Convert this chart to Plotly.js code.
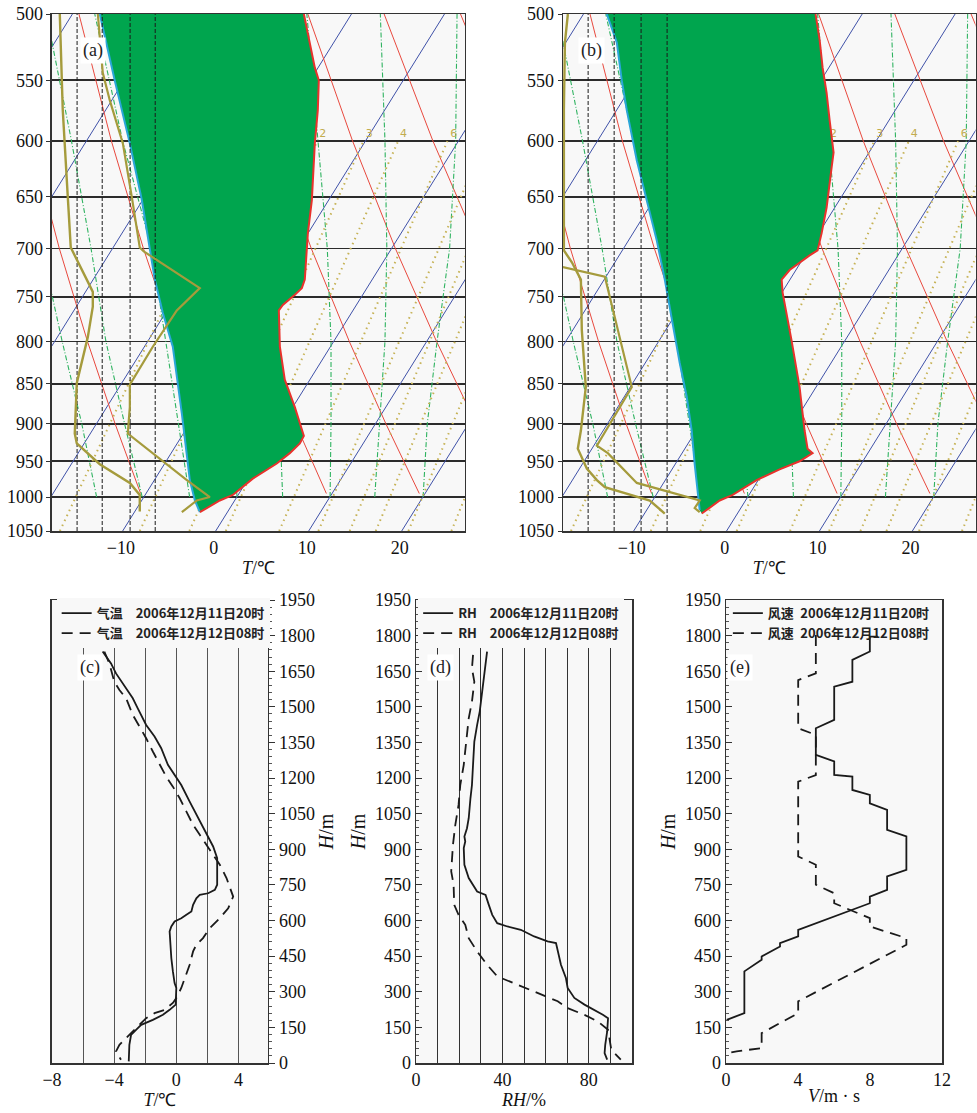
<!DOCTYPE html>
<html><head><meta charset="utf-8">
<script src="https://cdn.plot.ly/plotly-3.0.1.min.js"></script>
<style>html,body{margin:0;padding:0;background:#fff;}#chart{width:977px;height:1113px;}</style>
</head><body><div id="chart"></div>
<script>
// ---------------- Skew-T background ----------------
const pressureTicks = [500,550,600,650,700,750,800,850,900,950,1000,1050];
// isotherms: x at 1050 hPa and at 500 hPa
const isoBottomX = [-49.8,-39.8,-29.8,-19.8,-9.8,0.2,10.2,20.2];
const isoTopX    = [-15.2,-5.2,4.8,14.8,24.8,34.8,44.8,54.8];
const isoP = [1050,500];
// dry adiabats (red)
const dryP = [995,900,800,700,600,500];
const dryM10 = [-7.87,-10.62,-13.58,-16.61,-19.65,-22.71];
const dry0   = [2.12,-0.92,-4.20,-7.57,-11.01,-14.50];
const dry10  = [12.10,8.78,5.18,1.46,-2.37,-6.30];
const dry20  = [22.09,18.49,14.57,10.48,6.27,1.90];
const dry30  = [32.08,28.19,23.95,19.52,14.92,10.11];
const dry40  = [42.06,37.89,33.33,28.55,23.56,18.31];
const dry50  = [52.05,47.60,42.71,37.59,32.20,26.52];
// moist adiabats (green dash)
const moistP = [1000,900,800,700,600,500];
const moistM15 = [-12.6,-14.2,-16.3,-18.5,-21.5,-25.0];
const moistM10 = [-7.7,-9.6,-11.6,-13.2,-15.3,-18.0];
const moistM5  = [-2.6,-3.8,-5.1,-6.7,-9.8,-12.8];
const moist0   = [2.5,1.8,0.6,-1.3,-4.2,-8.0];
const moist5   = [7.4,7.1,6.3,4.8,2.4,-1.2];
const moist10  = [12.5,12.6,12.6,12.2,11.2,10.0];
const moist15  = [17.3,17.8,18.4,18.6,18.4,17.9];
const moist20  = [22.5,22.95,24.0,25.35,26.0,26.15];
// saturation mixing-ratio lines (olive dotted): x at 1050 and 600 hPa
const mixP = [1050,600];
const mixBottomX = [-16.55,-7.96,-2.63,1.29,7.03,11.24,14.61,17.41,20.92,25.54];
const mixTopX    = [3.01,11.12,16.09,19.82,25.12,29.12,32.3,34.93,38.2,42.5];
const mixLabels  = ['2','3','4','6'];
const mixLabelX  = [11.7,16.7,20.4,25.8];
const mixLabelP  = [594,594,594,594];

// ---------------- Panel (a) 2006-12-11 20时 ----------------
const aFillLeftT  = [-12.26,-10.65,-9.03,-7.74,-6.34,-5.48,-4.41,-3.44,-2.58,-2.04,-1.50];
const aFillLeftP  = [500,550,602,653,732,768,806,887,976,1005,1022];
const aFillRightT = [9.68,10.86,11.29,11.18,10.86,10.54,10.11,9.78,9.46,8.71,7.42,6.99,7.10,7.63,8.71,9.68,9.25,8.17,6.77,4.19,2.04,0.65,-1.50];
const aFillRightP = [500,540,550,574,602,653,685,732,741,748,759,765,806,845,879,916,926,939,953,974,997,1005,1022];
const aDewT  = [-16.56,-16.24,-15.70,-15.38,-13.66,-13.01,-13.01,-13.55,-14.73,-14.95,-14.73,-12.26,-9.03,-7.96,-7.96];
const aDewP  = [500,574,650,699,732,745,761,795,849,913,926,954,980,997,1021];
const aTempT = [-12.47,-11.94,-11.18,-9.78,-8.82,-7.96,-7.53,-2.90,-1.51,-3.98,-6.56,-9.03,-9.03,-9.25,-5.05,-2.90,-0.43,-1.83,-3.44];
const aTempP = [500,544,566,602,650,699,703,732,741,765,806,851,879,913,954,976,1000,1005,1022];
const aDashX = [-14.7,-12.0,-9.0,-6.3];

// ---------------- Panel (b) 2006-12-12 08时 ----------------
const bFillLeftT  = [-12.69,-11.61,-11.08,-10.54,-9.46,-8.39,-7.31,-6.45,-5.70,-4.84,-4.09,-3.55,-3.23,-2.90,-2.69];
const bFillLeftP  = [500,521,550,574,617,653,692,732,776,825,866,909,954,997,1019];
const bFillRightT = [9.78,10.22,10.54,10.97,11.29,11.72,11.51,10.97,10.43,10.0,9.14,6.99,6.13,6.24,7.20,8.06,8.60,8.92,9.46,8.06,5.91,3.44,0.86,-0.54,-2.47];
const bFillRightP = [500,519,540,560,582,610,623,660,685,702,707,722,732,746,799,854,909,933,939,950,961,976,997,1005,1024];
const bDewT  = [-16.88,-17.2,-17.31,-17.31,-16.45,-15.48,-15.38,-14.95,-15.48,-15.81,-14.84,-13.76,-12.90,-8.06,-6.45];
const bDewP  = [500,521,574,702,714,732,787,854,909,933,960,976,986,1005,1024];
const bTempT = [-17.42,-12.90,-10.0,-13.76,-12.58,-9.46,-2.69,-3.23,-2.69];
const bTempP = [719,729,854,929,939,980,1005,1016,1022];
const bDashX = [-14.7,-11.9,-9.0,-6.2];

// ---------------- Panel (c) 气温 ----------------
const cTemp20 = [-4.74,-4.2,-3.88,-3.45,-2.8,-2.48,-1.94,-1.4,-0.97,-0.54,0,0.32,0.86,1.4,1.94,2.37,2.63,2.63,2.48,2.05,1.51,1.29,1.08,0.97,0.65,0.32,-0.11,-0.32,-0.43,-0.39,-0.32,-0.22,-0.11,0,-0.04,-0.43,-0.86,-1.51,-2.26,-2.59,-2.91,-3.02,-3.06];
const cH20    = [1733,1683,1641,1599,1536,1494,1424,1375,1326,1256,1206,1171,1101,1031,968,912,863,751,729,715,708,694,666,638,624,610,596,575,554,498,442,386,337,316,246,224,203,182,161,140,119,77,7];
const cTemp08 = [-4.63,-4.31,-3.99,-3.66,-3.23,-2.8,-2.37,-1.94,-1.51,-1.08,-0.65,-0.22,0.22,0.65,1.08,1.51,1.94,2.37,2.8,3.23,3.66,3.34,2.8,2.16,1.72,1.29,1.08,0.86,0.54,0.32,0,-0.22,-0.75,-1.4,-1.94,-2.37,-2.8,-3.23,-3.66,-3.88,-3.56];
const cH08    = [1733,1683,1606,1571,1536,1466,1417,1368,1312,1256,1206,1164,1115,1059,1003,961,919,877,835,779,701,652,610,568,526,498,470,414,358,316,274,253,224,210,189,161,133,105,77,49,14];

// ---------------- Panel (d) RH ----------------
const dRH20 = [32.9,31.7,30.6,29.5,28.3,27.0,26.4,25.9,25.2,24.4,23.6,22.4,22.8,22.1,22.4,24.4,28.3,32.2,33.7,35.3,37.6,42.3,48.5,54.7,60.9,64.8,67.1,69.4,70.2,73.3,78.0,82.6,86.5,88.9,88.5,87.6,87.3,88.5];
const dH20  = [1733,1648,1564,1480,1424,1354,1256,1171,1115,1031,989,954,933,905,835,779,722,708,666,624,589,575,561,533,512,505,414,358,316,274,246,224,203,189,133,77,42,14];
const dRH08 = [26.4,25.9,27.0,25.9,24.4,23.3,22.1,20.5,19.7,18.2,17.1,16.3,17.4,17.7,19.7,22.8,24.4,28.3,32.9,37.6,46.9,56.2,65.6,70.2,78.0,84.2,88.9,90.4,94.8];
const dH08  = [1719,1662,1606,1522,1452,1368,1256,1171,1087,1003,919,807,751,666,624,582,526,470,414,365,330,295,260,231,203,175,140,56,14];

// ---------------- Panel (e) 风速 ----------------
const eV20 = [8.45,7.99,7.99,7.02,7.02,6.01,6.01,4.99,4.99,6.01,6.01,7.02,7.02,7.99,7.99,8.95,8.95,10.02,10.02,8.95,8.95,7.99,7.99,4.01,4.01,3.0,3.0,1.98,1.98,1.02,1.02,0.04];
const eH20 = [1796,1796,1733,1698,1606,1585,1445,1410,1298,1270,1213,1206,1150,1129,1094,1066,982,954,814,786,729,701,673,561,533,505,491,449,435,386,210,182];
const eV08 = [4.99,4.99,4.01,4.01,4.99,4.99,4.01,4.01,4.99,4.99,6.01,6.01,7.99,7.99,10.02,10.02,4.01,4.01,1.98,1.98,0.59,0.13];
const eH08 = [1803,1641,1613,1410,1382,1213,1185,870,835,751,715,673,610,575,526,498,260,210,126,63,49,42];

const SERIF = "'Liberation Serif', 'Times New Roman', serif";
const CJK = "'Noto Sans CJK SC', sans-serif";
const traces = [];

function ln(x, y, xa, ya, color, width, dash) {
  return {type:'scatter', mode:'lines', x:x, y:y, xaxis:xa, yaxis:ya, showlegend:false, hoverinfo:'skip',
    line:{color:color, width:width, dash:dash||'solid'}};
}

function background(xa, ya) {
  for (let i=0;i<isoBottomX.length;i++) traces.push(ln([isoBottomX[i], isoTopX[i]], isoP, xa, ya, '#3f51a8', 1));
  [dryM10,dry0,dry10,dry20,dry30,dry40,dry50].forEach(d => traces.push(ln(d, dryP, xa, ya, '#e8493e', 1)));
  [moistM15,moistM10,moistM5,moist0,moist5,moist10,moist15,moist20].forEach(m => traces.push(ln(m, moistP, xa, ya, '#2fb360', 1.1, '5px,2px,1px,2px')));
  for (let i=0;i<mixBottomX.length;i++) traces.push(ln([mixBottomX[i], mixTopX[i]], mixP, xa, ya, '#c6b255', 2, '1.5px,4px'));
  traces.push({type:'scatter', mode:'text', x:mixLabelX, y:mixLabelP, text:mixLabels, xaxis:xa, yaxis:ya, showlegend:false, hoverinfo:'skip',
    textfont:{family:'DejaVu Sans, sans-serif', size:11, color:'#c2ac4e'}});
}

function panel(xa, ya, LT, LP, RT, RP, dewT, dewP, tT, tP, dashX) {
  background(xa, ya);
  const px = LT.concat(RT.slice().reverse());
  const py = LP.concat(RP.slice().reverse());
  traces.push({type:'scatter', mode:'lines', x:px, y:py, fill:'toself', fillcolor:'#00a54e', line:{width:0, color:'#00a54e'},
    xaxis:xa, yaxis:ya, showlegend:false, hoverinfo:'skip'});
  traces.push(ln(LT, LP, xa, ya, '#2aa6d8', 2));
  traces.push(ln(RT, RP, xa, ya, '#e8322c', 2));
  dashX.forEach(v => traces.push(ln([v, v], [1050, 500], xa, ya, '#1a1a1a', 1, '4px,2px')));
  traces.push(ln(dewT, dewP, xa, ya, '#a59b3c', 2.4));
  traces.push(ln(tT, tP, xa, ya, '#a59b3c', 2.2));
}

panel('x','y', aFillLeftT,aFillLeftP,aFillRightT,aFillRightP,aDewT,aDewP,aTempT,aTempP,aDashX);
panel('x2','y2', bFillLeftT,bFillLeftP,bFillRightT,bFillRightP,bDewT,bDewP,bTempT,bTempP,bDashX);

function series(x, y, xa, ya, name, dash, lg) {
  return {type:'scatter', mode:'lines', x:x, y:y, xaxis:xa, yaxis:ya, name:name, legend:lg, hoverinfo:'skip',
    line:{color:'#1a1a1a', width:1.8, dash:dash}};
}
const SP = '\u2002';
const DASH = '11px,7px';
traces.push(series(cTemp20, cH20, 'x3','y3', '<b>气温'+SP+SP+'2006年12月11日20时</b>', 'solid', 'legend'));
traces.push(series(cTemp08, cH08, 'x3','y3', '<b>气温'+SP+SP+'2006年12月12日08时</b>', DASH, 'legend'));
traces.push(series(dRH20, dH20, 'x4','y4', '<b>RH'+SP+SP+'2006年12月11日20时</b>', 'solid', 'legend2'));
traces.push(series(dRH08, dH08, 'x4','y4', '<b>RH'+SP+SP+'2006年12月12日08时</b>', DASH, 'legend2'));
traces.push(series(eV20, eH20, 'x5','y5', '<b>风速'+SP+'2006年12月11日20时</b>', 'solid', 'legend3'));
traces.push(series(eV08, eH08, 'x5','y5', '<b>风速'+SP+'2006年12月12日08时</b>', DASH, 'legend3'));

const tickFont = {family:SERIF, size:18, color:'#111'};
const frame = {showline:true, mirror:true, linecolor:'#333', linewidth:1.5, zeroline:false};
const topY = [0.5229, 0.9874];
function skewX(dom, anchor) {
  return Object.assign({domain:dom, anchor:anchor, range:[-17.4,27.0], tickmode:'array', tickvals:[-10,0,10,20],
    ticktext:['−10','0','10','20'], ticks:'', showgrid:false, tickfont:tickFont,
    title:{text:'<i>T</i>/℃', font:{family:SERIF, size:18, color:'#111'}, standoff:4}}, frame);
}
function skewY(anchor) {
  return Object.assign({domain:topY, anchor:anchor, type:'log', range:[Math.log10(1050), Math.log10(500)],
    tickmode:'array', tickvals:pressureTicks, ticktext:pressureTicks.map(String), ticks:'outside', ticklen:4, tickcolor:'#333',
    showgrid:true, gridcolor:'#2b2b2b', gridwidth:1.9, tickfont:tickFont}, frame);
}
const botY = [0.0449, 0.4609];
const hFont = {family:SERIF, size:18, color:'#111'};
function hAxis(anchor, side, tickdir) {
  return Object.assign({domain:botY, anchor:anchor, side:side, range:[0,1950], tickmode:'linear', tick0:0, dtick:150,
    ticks:tickdir, ticklen:6, tickcolor:'#333', showgrid:false, tickfont:hFont,
    minor:{dtick:30, ticks:tickdir, ticklen:3, tickcolor:'#555', showgrid:false},
    title:{text:'<i>H</i>/m', font:{family:SERIF, size:20, color:'#111'}, standoff:4}}, frame);
}
function legendAt(x, bg) {
  return {x:x, y:0.4625, xanchor:'left', yanchor:'top', xref:'paper', yref:'paper', bgcolor:bg,
    borderwidth:0, font:{family:CJK, size:13, color:'#222'}, tracegroupgap:0, itemwidth:30};
}

const xFont = {family:SERIF, size:18, color:'#111'};
const layout = {
  width:977, height:1113, margin:{l:0,r:0,t:0,b:0}, paper_bgcolor:'#ffffff', plot_bgcolor:'#f8f8f8',
  hovermode:false, showlegend:true, font:{family:SERIF, color:'#111'},
  xaxis: skewX([0.0532,0.4759],'y'), yaxis: skewY('x'),
  xaxis2: skewX([0.5763,0.9985],'y2'), yaxis2: skewY('x2'),
  xaxis3: Object.assign({domain:[0.0532,0.2743], anchor:'y3', range:[-8,5.9], tickmode:'array',
    tickvals:[-8,-6,-4,-2,0,2,4], ticktext:['−8','','−4','','0','','4'], ticks:'', showgrid:true, gridcolor:'#555', gridwidth:1,
    tickfont:xFont, title:{text:'<i>T</i>/℃', font:xFont, standoff:0}}, frame),
  yaxis3: hAxis('x3','right','outside'),
  xaxis4: Object.assign({domain:[0.4258,0.6469], anchor:'y4', range:[0,100], tickmode:'array',
    tickvals:[0,10,20,30,40,50,60,70,80,90,100], ticktext:['0','','','','40','','','','80','',''], ticks:'', showgrid:true, gridcolor:'#333', gridwidth:1,
    tickfont:xFont, title:{text:'<i>RH</i>/%', font:xFont, standoff:0}}, frame),
  yaxis4: hAxis('x4','left','inside'),
  xaxis5: Object.assign({domain:[0.7431,0.9642], anchor:'y5', range:[0,12], tickmode:'array',
    tickvals:[0,4,8,12], ticktext:['0','4','8','12'], ticks:'', showgrid:false,
    tickfont:xFont, title:{text:'<i>V</i>/m · s', font:xFont, standoff:0}}, frame),
  yaxis5: hAxis('x5','left','inside'),
  legend: legendAt(0.058, '#f8f8f8'), legend2: legendAt(0.428, '#f8f8f8'), legend3: legendAt(0.745, 'rgba(0,0,0,0)'),
  annotations: [
    {text:'(a)', x:80/977, y:1-37/1113}, {text:'(b)', x:591/977, y:1-37/1113},
    {text:'(c)', x:77/977, y:1-667/1113}, {text:'(d)', x:440/977, y:1-667/1113}, {text:'(e)', x:753/977, y:1-667/1113}
  ].map(a => Object.assign({xref:'paper', yref:'paper', showarrow:false, bgcolor:'#ffffff', borderpad:2,
    font:{family:SERIF, size:18, color:'#222'}}, a))
};

Plotly.newPlot('chart', traces, layout, {staticPlot:true, displayModeBar:false});
</script></body></html>
